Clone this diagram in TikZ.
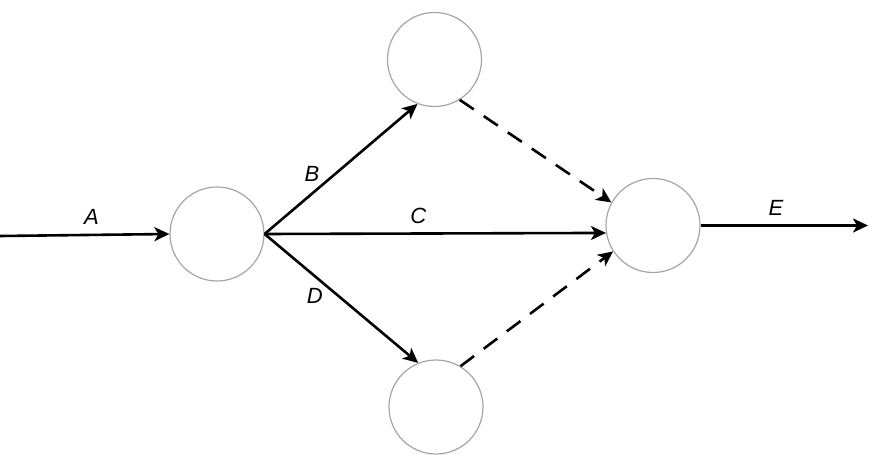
\documentclass[tikz,border=0pt]{standalone}
\usepackage{fontspec}
\setmainfont{Liberation Sans}
\usetikzlibrary{arrows.meta}
\begin{document}
\begin{tikzpicture}[x=0.5pt,y=-0.5pt,
		event/.style={circle,draw=gray!70,line width=0.6pt,minimum size=47pt,inner sep=0pt},
		act/.style={line width=1.3pt,-{Stealth[length=7.5pt,width=7pt,inset=2pt]}},
		dummy/.style={act,dash pattern=on 8.5pt off 6pt},
		lbl/.style={font=\fontsize{11}{13}\selectfont\itshape}]
		\useasboundingbox (0,0) rectangle (874,466);
		\node[event] (start) at (217,234) {};
		\node[event] (top) at (434.5,59.5) {};
		\node[event] (bottom) at (436,407) {};
		\node[event] (finish) at (653,225.5) {};
		\coordinate (in) at (0,236);
		\coordinate (out) at (868,225.5);
		\draw[act] (in) -- (start.west) node[lbl,pos=0.54,above=1pt] {A};
		\draw[act] (start.east) -- (top.-111) node[lbl,pos=0.38,anchor=south east,inner sep=1pt] {B};
		\draw[act] (start.east) -- (finish.-171) node[lbl,pos=0.45,above=1pt] {C};
		\draw[act] (start.east) -- (bottom.112) node[lbl,pos=0.4,anchor=north east,inner sep=1pt] {D};
		\draw[dummy] (top.-58) -- (finish.151);
		\draw[dummy] (bottom.59) -- (finish.-147);
		\draw[act] (finish.east) -- (out) node[lbl,pos=0.45,above=1pt] {E};
	\end{tikzpicture}
\end{document}
